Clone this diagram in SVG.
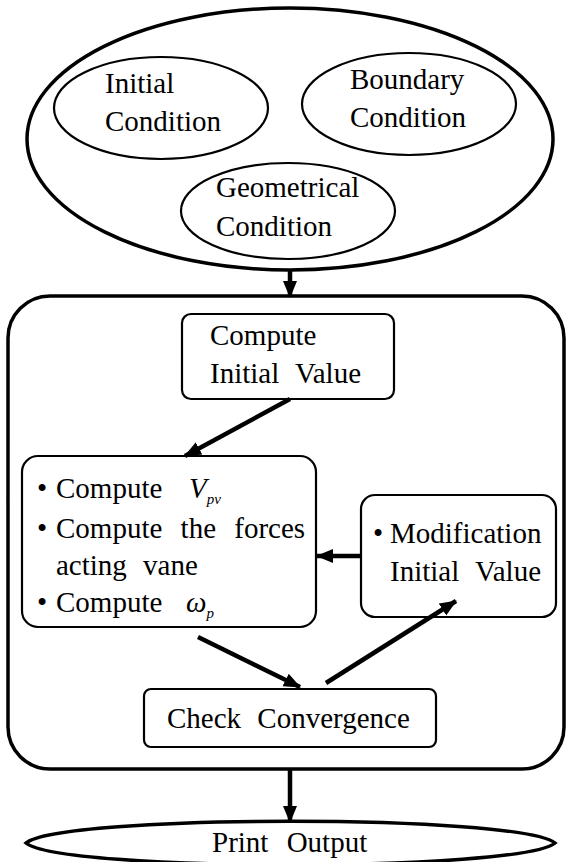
<svg xmlns="http://www.w3.org/2000/svg" width="568" height="862" viewBox="0 0 568 862">
<style>
text{font-family:"Liberation Serif","Times New Roman",serif;font-size:29px;fill:#000;word-spacing:9px}
.thick{fill:none;stroke:#000;stroke-width:3.5}
.thin{fill:#fff;stroke:#000;stroke-width:2.2}
.arr{fill:none;stroke:#000;stroke-width:4.5}
.it{font-style:italic}
.sub{font-style:italic;font-size:15px}
</style>
<defs>
<marker id="ah" markerUnits="userSpaceOnUse" markerWidth="18" markerHeight="16" refX="16" refY="8" orient="auto">
<path d="M0,1 L17,8 L0,15 Z" fill="#000"/>
</marker>
</defs>
<rect width="568" height="862" fill="#fff"/>
<g id="conditions">
<ellipse class="thick" cx="290" cy="139" rx="263" ry="131"/>
</g>
<g id="initial-condition">
<ellipse class="thin" cx="161" cy="108" rx="107" ry="51"/>
<text x="105" y="93">Initial</text>
<text x="105" y="131">Condition</text>
</g>
<g id="boundary-condition">
<ellipse class="thin" cx="409" cy="104" rx="107" ry="51"/>
<text x="350" y="89">Boundary</text>
<text x="350" y="127">Condition</text>
</g>
<g id="geometrical-condition">
<ellipse class="thin" cx="288" cy="211" rx="107" ry="48"/>
<text x="216" y="197">Geometrical</text>
<text x="216" y="236">Condition</text>
</g>
<g id="loop">
<rect class="thick" x="8" y="296" width="556" height="473" rx="42"/>
</g>
<g id="compute-initial">
<rect class="thin" x="182" y="314" width="212" height="85" rx="9"/>
<text x="210" y="345">Compute</text>
<text x="210" y="383">Initial Value</text>
</g>
<g id="compute-block">
<rect class="thin" x="22" y="456" width="294" height="171" rx="16"/>
<text y="498"><tspan x="37">•</tspan><tspan x="56">Compute</tspan><tspan x="189" class="it">V</tspan><tspan class="sub" dy="6">pv</tspan></text>
<text y="538" style="word-spacing:11px"><tspan x="37">•</tspan><tspan x="56">Compute the forces</tspan></text>
<text x="56" y="575">acting vane</text>
<text y="612"><tspan x="37">•</tspan><tspan x="56">Compute</tspan><tspan x="186" class="it">ω</tspan><tspan class="sub" dy="6">p</tspan></text>
</g>
<g id="modification">
<rect class="thin" x="361" y="495" width="195" height="122" rx="14"/>
<text y="543"><tspan x="373">•</tspan><tspan x="390">Modification</tspan></text>
<text x="390" y="581">Initial Value</text>
</g>
<g id="check">
<rect class="thin" x="144" y="689" width="292" height="58" rx="7"/>
<text x="167" y="728">Check Convergence</text>
</g>
<g id="print">
<path class="thick" d="M26,843 C60,814 520,814 555,843 C520,872 60,872 26,843 Z"/>
<text x="212" y="852" style="word-spacing:11px">Print Output</text>
</g>
<g id="connectors">
<line class="arr" x1="290" y1="270" x2="290" y2="297" marker-end="url(#ah)"/>
<line class="arr" x1="290" y1="399" x2="185" y2="456" marker-end="url(#ah)"/>
<line class="arr" x1="361" y1="556" x2="317" y2="556" marker-end="url(#ah)"/>
<line class="arr" x1="198" y1="637" x2="300" y2="687" marker-end="url(#ah)"/>
<line class="arr" x1="326" y1="683" x2="456" y2="601" marker-end="url(#ah)"/>
<line class="arr" x1="290" y1="769" x2="290" y2="822" marker-end="url(#ah)"/>
</g>
</svg>
